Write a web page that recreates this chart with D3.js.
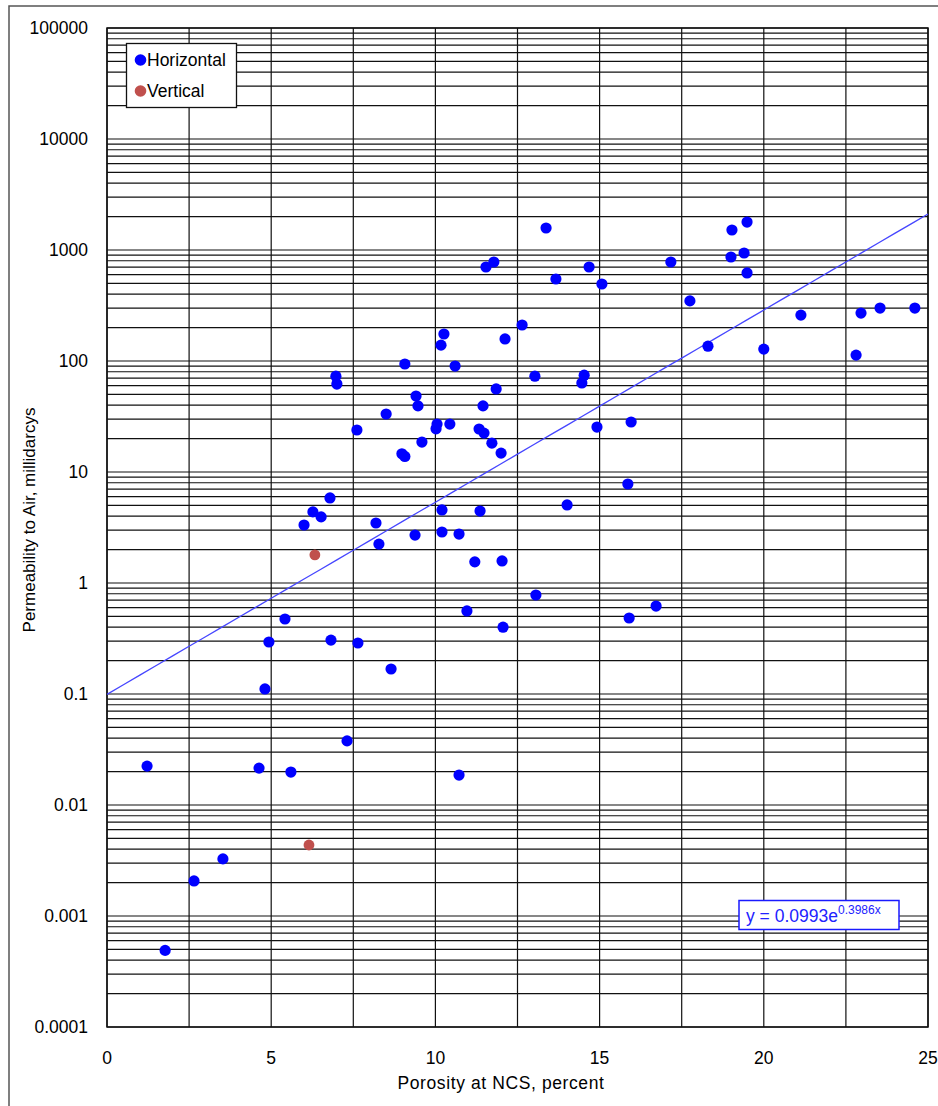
<!DOCTYPE html>
<html>
<head>
<meta charset="utf-8">
<script src="https://cdn.jsdelivr.net/npm/d3@7"></script>
<style>
  body { margin: 0; background: #fff; }
  text { font-family: "Liberation Sans", Arial, sans-serif; fill: #000; }
</style>
</head>
<body>
<div id="chart"></div>
<script>
// horizontal plugs: porosity (%) and air permeability (md)
const horizPorosity = [1.22, 1.77, 2.65, 3.53, 4.63, 4.81, 4.93, 5.42, 5.60, 6.0, 6.27, 6.52, 6.79, 6.82,
  6.97, 7.0, 7.31, 7.61, 7.64, 8.19, 8.28, 8.50, 8.65, 9.07, 8.98, 9.07, 9.38, 9.41, 9.47, 9.59,
  10.05, 10.02, 10.17, 10.26, 10.2, 10.2, 10.44, 10.6, 10.72, 10.72, 10.96, 11.2, 11.33, 11.36,
  11.48, 11.45, 11.54, 11.78, 11.72, 11.85, 12.0, 12.03, 12.12, 12.06, 12.64, 13.03, 13.06, 13.37,
  13.67, 14.01, 14.46, 14.53, 14.68, 14.92, 15.07, 15.86, 15.9, 15.96, 16.72, 17.17, 17.75, 18.30,
  19.0, 19.03, 19.4, 19.49, 19.49, 20.0, 21.13, 22.81, 22.96, 23.54, 24.6];
const horizPerm = [0.0224, 0.00049, 0.00207, 0.00327, 0.0215, 0.111, 0.294, 0.474, 0.0198, 3.33, 4.37, 3.94, 5.84, 0.306,
  73, 62, 0.0378, 23.9, 0.288, 3.47, 2.24, 33.3, 0.168, 94, 14.6, 13.8, 2.7, 48.4, 39.4, 18.6,
  27, 24.5, 139, 175, 4.55, 2.88, 27, 90, 2.76, 0.0186, 0.56, 1.55, 24.4, 4.45,
  22.4, 39.4, 703, 780, 18.2, 56, 14.8, 1.58, 158, 0.40, 211, 73, 0.78, 1578,
  548, 5.05, 63.4, 74.5, 703, 25.4, 494, 7.8, 0.484, 28.2, 0.62, 780, 348, 136,
  865, 1514, 940, 1786, 621, 128, 259, 113, 270, 300, 300];

// vertical plugs
const vertPorosity = [6.33, 6.15];
const vertPerm = [1.79, 0.00436];

// exponential fit y = a * e^(b x)
const fitA = 0.0993;
const fitB = 0.3986;

const xTicks = [0, 5, 10, 15, 20, 25];
const xGrid = [0, 2.5, 5, 7.5, 10, 12.5, 15, 17.5, 20, 22.5, 25];
const yTicks = [0.0001, 0.001, 0.01, 0.1, 1, 10, 100, 1000, 10000, 100000];
const yTickLabels = ['0.0001', '0.001', '0.01', '0.1', '1', '10', '100', '1000', '10000', '100000'];

const width = 938;
const height = 1106;
const margin = {top: 28, right: 10, bottom: 79, left: 107};
const fontSize = 17.5;

const svg = d3.select('#chart').append('svg')
  .attr('width', width)
  .attr('height', height);

// outer frame (runs off the picture on the right and bottom)
svg.append('rect')
  .attr('x', 9).attr('y', 6)
  .attr('width', 1000).attr('height', 1200)
  .attr('fill', 'none')
  .attr('stroke', '#555')
  .attr('stroke-width', 1.5);

const x = d3.scaleLinear().domain([0, 25]).range([margin.left, width - margin.right]);
const y = d3.scaleLog().domain([0.0001, 100000]).range([height - margin.bottom, margin.top]);

// minor + major horizontal grid: 1..9 per decade
const yGrid = [];
for (let e = -4; e <= 4; e++) {
  for (let k = 1; k <= 9; k++) yGrid.push(k * Math.pow(10, e));
}
yGrid.push(100000);

const grid = svg.append('g').attr('stroke', '#111').attr('stroke-width', 1.2);
grid.selectAll('line.h')
  .data(yGrid)
  .join('line')
  .attr('class', 'h')
  .attr('x1', x(0)).attr('x2', x(25))
  .attr('y1', d => y(d)).attr('y2', d => y(d));
grid.selectAll('line.v')
  .data(xGrid)
  .join('line')
  .attr('class', 'v')
  .attr('x1', d => x(d)).attr('x2', d => x(d))
  .attr('y1', y(100000)).attr('y2', y(0.0001));

svg.append('rect')
  .attr('x', x(0)).attr('y', y(100000))
  .attr('width', x(25) - x(0)).attr('height', y(0.0001) - y(100000))
  .attr('fill', 'none')
  .attr('stroke', '#111')
  .attr('stroke-width', 1.5);

// tick labels
svg.append('g').selectAll('text')
  .data(yTicks)
  .join('text')
  .attr('x', 88)
  .attr('y', d => y(d))
  .attr('dy', '0.35em')
  .attr('text-anchor', 'end')
  .attr('font-size', fontSize)
  .text((d, i) => yTickLabels[i]);

svg.append('g').selectAll('text')
  .data(xTicks)
  .join('text')
  .attr('x', d => x(d))
  .attr('y', 1064)
  .attr('text-anchor', 'middle')
  .attr('font-size', fontSize)
  .text(d => d);

// axis titles
svg.append('text')
  .attr('x', 501).attr('y', 1089)
  .attr('text-anchor', 'middle')
  .attr('font-size', fontSize)
  .attr('letter-spacing', 0.6)
  .text('Porosity at NCS, percent');

svg.append('text')
  .attr('transform', 'translate(35,520) rotate(-90)')
  .attr('text-anchor', 'middle')
  .attr('font-size', 17)
  .text('Permeability to Air, millidarcys');

// trend line
const fitLine = d3.line()
  .x(d => x(d))
  .y(d => y(fitA * Math.exp(fitB * d)));
svg.append('path')
  .datum(d3.range(0, 25.01, 0.5))
  .attr('d', fitLine)
  .attr('fill', 'none')
  .attr('stroke', '#4646ff')
  .attr('stroke-width', 1.3);

// points
svg.append('g').selectAll('circle')
  .data(horizPorosity.map((p, i) => [p, horizPerm[i]]))
  .join('circle')
  .attr('cx', d => x(d[0]))
  .attr('cy', d => y(d[1]))
  .attr('r', 5.6)
  .attr('fill', '#0000ff');

svg.append('g').selectAll('circle')
  .data(vertPorosity.map((p, i) => [p, vertPerm[i]]))
  .join('circle')
  .attr('cx', d => x(d[0]))
  .attr('cy', d => y(d[1]))
  .attr('r', 5.4)
  .attr('fill', '#c0504d');

// legend
const legend = svg.append('g');
legend.append('rect')
  .attr('x', 126.5).attr('y', 43.5)
  .attr('width', 110).attr('height', 64)
  .attr('fill', '#fff')
  .attr('stroke', '#111')
  .attr('stroke-width', 1.3);
const legendItems = [['Horizontal', '#0000ff'], ['Vertical', '#c0504d']];
legendItems.forEach(([name, color], i) => {
  legend.append('circle')
    .attr('cx', 140.5).attr('cy', 60 + i * 31)
    .attr('r', 5.8)
    .attr('fill', color);
  legend.append('text')
    .attr('x', 147).attr('y', 66 + i * 31)
    .attr('font-size', fontSize)
    .text(name);
});

// fit equation box
const eq = svg.append('g');
eq.append('rect')
  .attr('x', 739).attr('y', 900.5)
  .attr('width', 160).attr('height', 29)
  .attr('fill', '#fff')
  .attr('stroke', '#1a1aff')
  .attr('stroke-width', 1.5);
const eqText = eq.append('text')
  .attr('x', 746).attr('y', 922)
  .attr('font-size', fontSize)
  .style('fill', '#2222ff');
eqText.append('tspan').text('y = ' + fitA + 'e');
eqText.append('tspan')
  .attr('dy', -8)
  .attr('font-size', 12)
  .text(fitB + 'x');
</script>
</body>
</html>
